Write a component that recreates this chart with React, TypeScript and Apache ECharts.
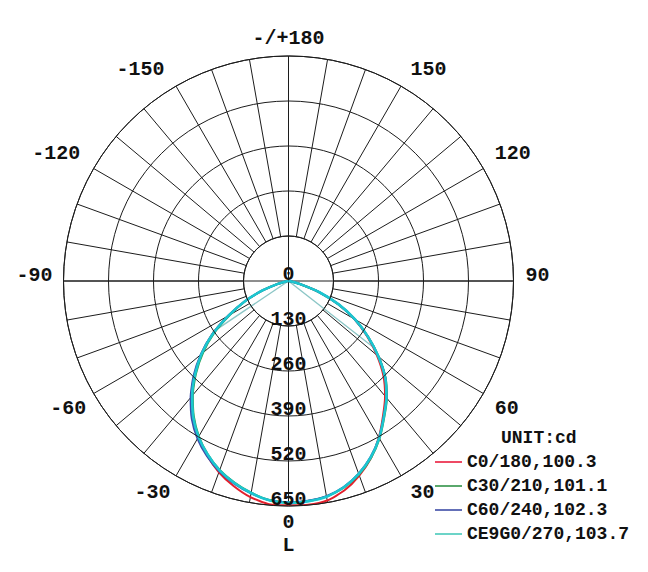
import React, { useRef, useEffect } from 'react';
import * as echarts from 'echarts';

// gamma angles (deg from nadir), one half-plane each side
const GAMMA = [0, 5, 10, 15, 20, 25, 30, 35, 40, 45, 50, 55, 60, 65, 70, 75, 80, 85, 90];

const SERIES_NAMES = ['C0/180,100.3', 'C30/210,101.1', 'C60/240,102.3', 'CE9G0/270,103.7'];
const SERIES_COLORS = ['#e4202c', '#2f9e48', '#3c4caa', '#1cc6d0'];
const LEGEND_COLORS = ['#ee4a64', '#5aa86c', '#6470b8', '#6cd4c8'];

// right half (C0, C30, ...) and left half (C180, C210, ...) in cd
const C0_RIGHT = [648, 649, 644, 626, 598, 564, 522, 476, 434, 388, 333, 276, 219, 158, 93, 34, 8, 1, 0];
const C0_LEFT = [649, 647, 634, 613, 588, 556, 521, 480, 433, 382, 329, 269, 201, 140, 80, 32, 8, 1, 0];
const C30_RIGHT = [640, 638, 632, 618, 595, 564, 526, 482, 442, 397, 340, 281, 222, 159, 94, 34, 8, 1, 0];
const C30_LEFT = [639, 635, 621, 603, 581, 552, 518, 477, 430, 378, 322, 262, 195, 137, 78, 31, 7, 1, 0];
const C60_RIGHT = [639, 637, 631, 616, 592, 561, 523, 479, 440, 396, 339, 280, 221, 160, 95, 35, 8, 1, 0];
const C60_LEFT = [640, 636, 623, 606, 585, 558, 526, 487, 440, 388, 331, 269, 201, 140, 80, 32, 8, 1, 0];
const C90_RIGHT = [641, 639, 633, 617, 593, 562, 524, 480, 440, 395, 339, 280, 222, 160, 95, 35, 8, 1, 0];
const C90_LEFT = [640, 636, 622, 604, 582, 553, 520, 480, 433, 382, 328, 268, 200, 140, 80, 32, 8, 1, 0];

// faint closing strokes from the centre
const STRAY_ANGLES = [304, 52];
const STRAY_VALUES = [264, 310];

const RADIUS_MAX = 650;
const RADIUS_STEP = 130;

const FONT = 'Liberation Mono';
const GRID = { color: '#1c1c1c', width: 1 };
const LABEL_FONT = { fontFamily: FONT, fontWeight: 'bold' as const, fontSize: 20, color: '#111' };

function halfToPolar(right: number[], left: number[]) {
  const pts: number[][] = [];
  for (let i = GAMMA.length - 1; i >= 0; i--) pts.push([right[i], GAMMA[i]]);
  for (let i = 1; i < GAMMA.length; i++) pts.push([left[i], 360 - GAMMA[i]]);
  return pts;
}

const App: React.FC = () => {
  const ref = useRef<HTMLDivElement>(null);

  useEffect(() => {
    if (!ref.current) return;
    const chart = echarts.init(ref.current, null, { renderer: 'svg' });

    const halves = [
      [C0_RIGHT, C0_LEFT],
      [C30_RIGHT, C30_LEFT],
      [C60_RIGHT, C60_LEFT],
      [C90_RIGHT, C90_LEFT],
    ];

    const curves = halves.map(([r, l], i) => ({
      name: SERIES_NAMES[i],
      type: 'line',
      coordinateSystem: 'polar',
      polarIndex: 1,
      symbol: 'none',
      smooth: 0.2,
      data: halfToPolar(r, l),
      lineStyle: { color: SERIES_COLORS[i], width: i === 3 ? 2.6 : 2 },
      itemStyle: { color: SERIES_COLORS[i] },
      z: 3 + i,
    }));

    const strays = STRAY_ANGLES.map((a, i) => ({
      name: 'stray' + i,
      type: 'line',
      coordinateSystem: 'polar',
      polarIndex: 1,
      symbol: 'none',
      silent: true,
      data: [[0, a], [STRAY_VALUES[i], a]],
      lineStyle: { color: '#8cc6c6', width: 1.4 },
      z: 2,
    }));

    // rich keys shift each label to where the reference puts it
    const angleLabel = (v: number) => {
      if (v % 30 !== 0 || v === 360) return '';
      if (v === 0) return '{b|0}\n{b|L}';
      if (v === 180) return '{t|-/+180}';
      if (v === 90) return '{rs|90}';
      if (v === 270) return '{ls|-90}';
      if (v < 90) return `{rl|${v}}`;
      if (v < 180) return `{ru|${v}}`;
      if (v < 270) return `{lu|${v - 360}}`;
      return `{ll|${v - 360}}`;
    };

    chart.setOption({
      animation: false,
      title: {
        text: 'UNIT:cd',
        left: 496,
        top: 424,
        textStyle: { fontFamily: FONT, fontWeight: 'bold', fontSize: 18, color: '#111' },
      },
      legend: {
        data: SERIES_NAMES.map((n, i) => ({ name: n, itemStyle: { color: LEGEND_COLORS[i] } })),
        orient: 'vertical',
        left: 430,
        top: 448,
        icon: 'rect',
        itemWidth: 27,
        itemHeight: 2,
        itemGap: 6,
        textStyle: { fontFamily: FONT, fontWeight: 'bold', fontSize: 18, color: '#111', lineHeight: 18 },
      },
      polar: [
        { center: [288.5, 281], radius: [45, 225] },
        { center: [288.5, 281], radius: [0, 225] },
      ],
      angleAxis: [
        {
          polarIndex: 0,
          type: 'value',
          min: 0,
          max: 360,
          interval: 10,
          startAngle: 270,
          clockwise: false,
          axisLine: { show: true, lineStyle: GRID },
          axisTick: { show: false },
          splitLine: { show: true, lineStyle: GRID },
          axisLabel: {
            margin: 5,
            formatter: angleLabel,
            ...LABEL_FONT,
            rich: {
              b: { ...LABEL_FONT, lineHeight: 23 },
              t: { ...LABEL_FONT, lineHeight: 20, padding: [0, 0, 6, 0] },
              rs: { ...LABEL_FONT, lineHeight: 20, padding: [0, 0, 11, 7] },
              ls: { ...LABEL_FONT, lineHeight: 20, padding: [0, 6, 11, 0] },
              ru: { ...LABEL_FONT, lineHeight: 20, padding: [0, 0, 5, 7] },
              rl: { ...LABEL_FONT, lineHeight: 20, padding: [4, 0, 0, 7] },
              lu: { ...LABEL_FONT, lineHeight: 20, padding: [0, 9, 5, 0] },
              ll: { ...LABEL_FONT, lineHeight: 20, padding: [4, 3, 0, 0] },
            },
          },
        },
        {
          polarIndex: 1,
          type: 'value',
          min: 0,
          max: 360,
          interval: 90,
          startAngle: 270,
          clockwise: false,
          axisLine: { show: false },
          axisTick: { show: false },
          axisLabel: { show: false },
          splitLine: { show: true, lineStyle: GRID },
        },
      ],
      radiusAxis: [
        { polarIndex: 0, type: 'value', min: 0, max: 1, show: false },
        {
          polarIndex: 1,
          type: 'value',
          min: 0,
          max: RADIUS_MAX,
          interval: RADIUS_STEP,
          axisLine: { show: false },
          axisTick: { show: false },
          splitLine: { show: true, lineStyle: GRID },
          axisLabel: {
            margin: 0,
            rotate: 0,
            align: 'center',
            verticalAlign: 'bottom',
            lineHeight: 13,
            ...LABEL_FONT,
          },
          z: 10,
        },
      ],
      series: [...strays, ...curves],
    });

    return () => chart.dispose();
  }, []);

  return (
    <div
      ref={ref}
      style={{ position: 'fixed', left: 0, top: 0, width: 648, height: 572, background: '#fff' }}
    />
  );
};

export default App;
